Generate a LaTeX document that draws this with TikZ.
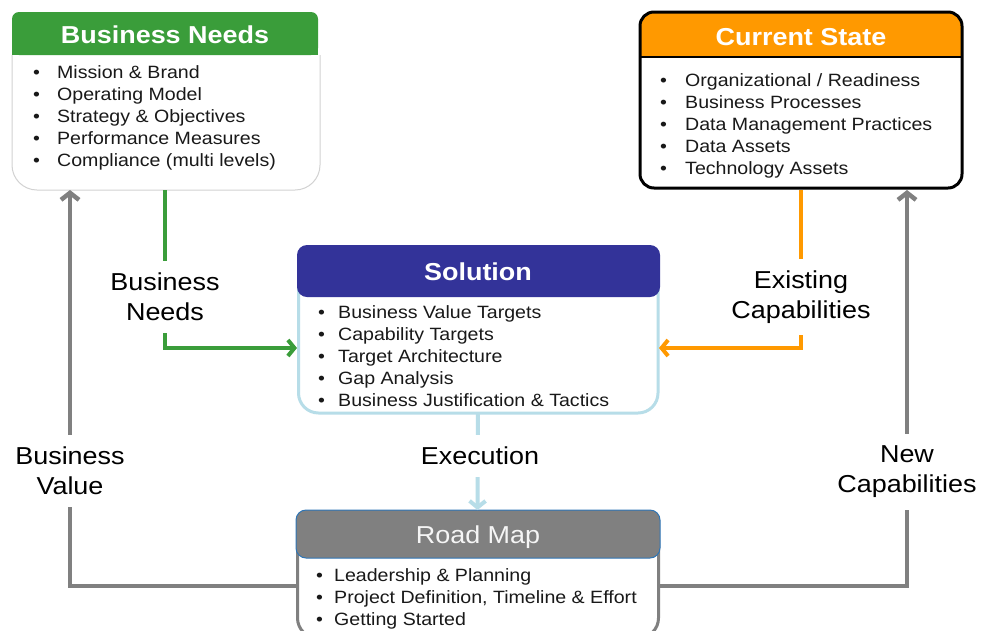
\documentclass[tikz,border=0pt]{standalone}
\usepackage{fontspec}
\setmainfont[FakeStretch=1.1]{Liberation Sans}
\usetikzlibrary{arrows.meta}
\definecolor{bngreen}{RGB}{58,157,58}
\definecolor{csorange}{RGB}{255,153,0}
\definecolor{solnavy}{RGB}{51,51,153}
\definecolor{solblue}{RGB}{183,221,232}
\definecolor{rmgrey}{RGB}{128,128,128}
\definecolor{rmblue}{RGB}{46,117,182}
\newcommand{\myb}[2]{\makebox[#1][l]{\textbullet}#2}
\begin{document}
\begin{tikzpicture}[x=1pt,y=-1pt,
  box/.style={rectangle,inner sep=0pt,outer sep=0pt,anchor=north west},
  hdr/.style={font=\fontsize{24.5}{28}\selectfont\bfseries,text=white,inner sep=0pt,anchor=base},
  items/.style={font=\fontsize{17.8}{22}\selectfont,align=left,anchor=north west,inner sep=0pt,text=black!90},
  lbl/.style={font=\fontsize{24.5}{30}\selectfont,align=center,fill=white,inner xsep=3pt,inner ysep=12pt},
  conn/.style={line width=4pt,-{Straight Barb[length=6.5pt,width=16pt]}},
  gconn/.style={line width=4.5pt,-{Straight Barb[length=7pt,width=18pt]}},
]
\clip (0,0) rectangle (982,630);
\fill[white] (0,0) rectangle (982,630);

% frame nodes
\node[box,minimum width=306pt,minimum height=178pt] (bnbox) at (12,12) {};
\node[box,minimum width=322pt,minimum height=178pt] (csbox) at (640,12) {};
\node[box,minimum width=362pt,minimum height=168pt] (solbox) at (297,245) {};
\node[box,minimum width=363pt,minimum height=152pt] (rmbox) at (296,510) {};

% Business Needs shape
\draw[gray!35,line width=1pt,rounded corners=25pt] (12,55) -- (12,190) -- (320,190) -- (320,55);
\fill[bngreen,rounded corners=7pt] (12,12) rectangle (318,55);
\fill[bngreen] (12,35) rectangle (318,55);

% Current State shape
\fill[csorange,rounded corners=14pt] (640,12) rectangle (962,57);
\fill[csorange] (640,35) rectangle (962,57);
\draw[line width=2.5pt] (640,57) -- (962,57);
\draw[line width=3pt,rounded corners=14pt] (640,12) rectangle (962,188);

% Solution shape
\draw[solblue,line width=3pt,rounded corners=20pt] (298.5,285) -- (298.5,413) -- (658,413) -- (658,285);
\fill[solnavy,rounded corners=10pt] (297,245) rectangle (660,297);

% Road Map shape
\draw[rmgrey,line width=3pt,rounded corners=20pt] (297.5,540) -- (297.5,638) -- (658.5,638) -- (658.5,540);
\draw[fill=rmgrey,draw=rmblue,line width=1pt,rounded corners=10pt] (296,510) rectangle (660,558);

% connectors
\draw[conn,bngreen] (bnbox.south) |- ([yshift=-19pt]solbox.west);
\draw[conn,csorange] (csbox.south) |- ([yshift=-19pt]solbox.east);
\draw[gconn,rmgrey] (rmbox.west) -| ([xshift=58pt]bnbox.south west);
\draw[gconn,rmgrey] (rmbox.east) -| ([xshift=-55pt]csbox.south east);
\draw[conn,solblue] (solbox.south) -- (rmbox.north);

% labels
\node[lbl] (lbn) at (165,297) {Business\\Needs};
\node[lbl] (lec) at (801,297) {Existing\\Capabilities};
\node[lbl] (lex) at (480,455.5) {Execution};
\node[lbl] (lbv) at (70,470.5) {Business\\Value};
\node[lbl] (lnc) at (907,472) {New\\Capabilities};

% headers
\node[hdr] (bnh) at (165,43) {Business Needs};
\node[hdr] (csh) at (801,45) {Current State};
\node[hdr] (solh) at (478,280) {Solution};
\node[hdr,font=\fontsize{24.5}{28}\selectfont,text=gray!8] (rmh) at (478,543) {Road Map};

% item lists
\node[items] (bnt) at (33,65.5) {\myb{24pt}{Mission \& Brand}\\
\myb{24pt}{Operating Model}\\
\myb{24pt}{Strategy \& Objectives}\\
\myb{24pt}{Performance Measures}\\
\myb{24pt}{Compliance (multi levels)}};
\node[items] (cst) at (660,73.5) {\myb{25pt}{Organizational / Readiness}\\
\myb{25pt}{Business Processes}\\
\myb{25pt}{Data Management Practices}\\
\myb{25pt}{Data Assets}\\
\myb{25pt}{Technology Assets}};
\node[items] (solt) at (318,305.5) {\myb{20pt}{Business Value Targets}\\
\myb{20pt}{Capability Targets}\\
\myb{20pt}{Target Architecture}\\
\myb{20pt}{Gap Analysis}\\
\myb{20pt}{Business Justification \& Tactics}};
\node[items] (rmt) at (316,568.5) {\myb{18pt}{Leadership \& Planning}\\
\myb{18pt}{Project Definition, Timeline \& Effort}\\
\myb{18pt}{Getting Started}};
\end{tikzpicture}
\end{document}
